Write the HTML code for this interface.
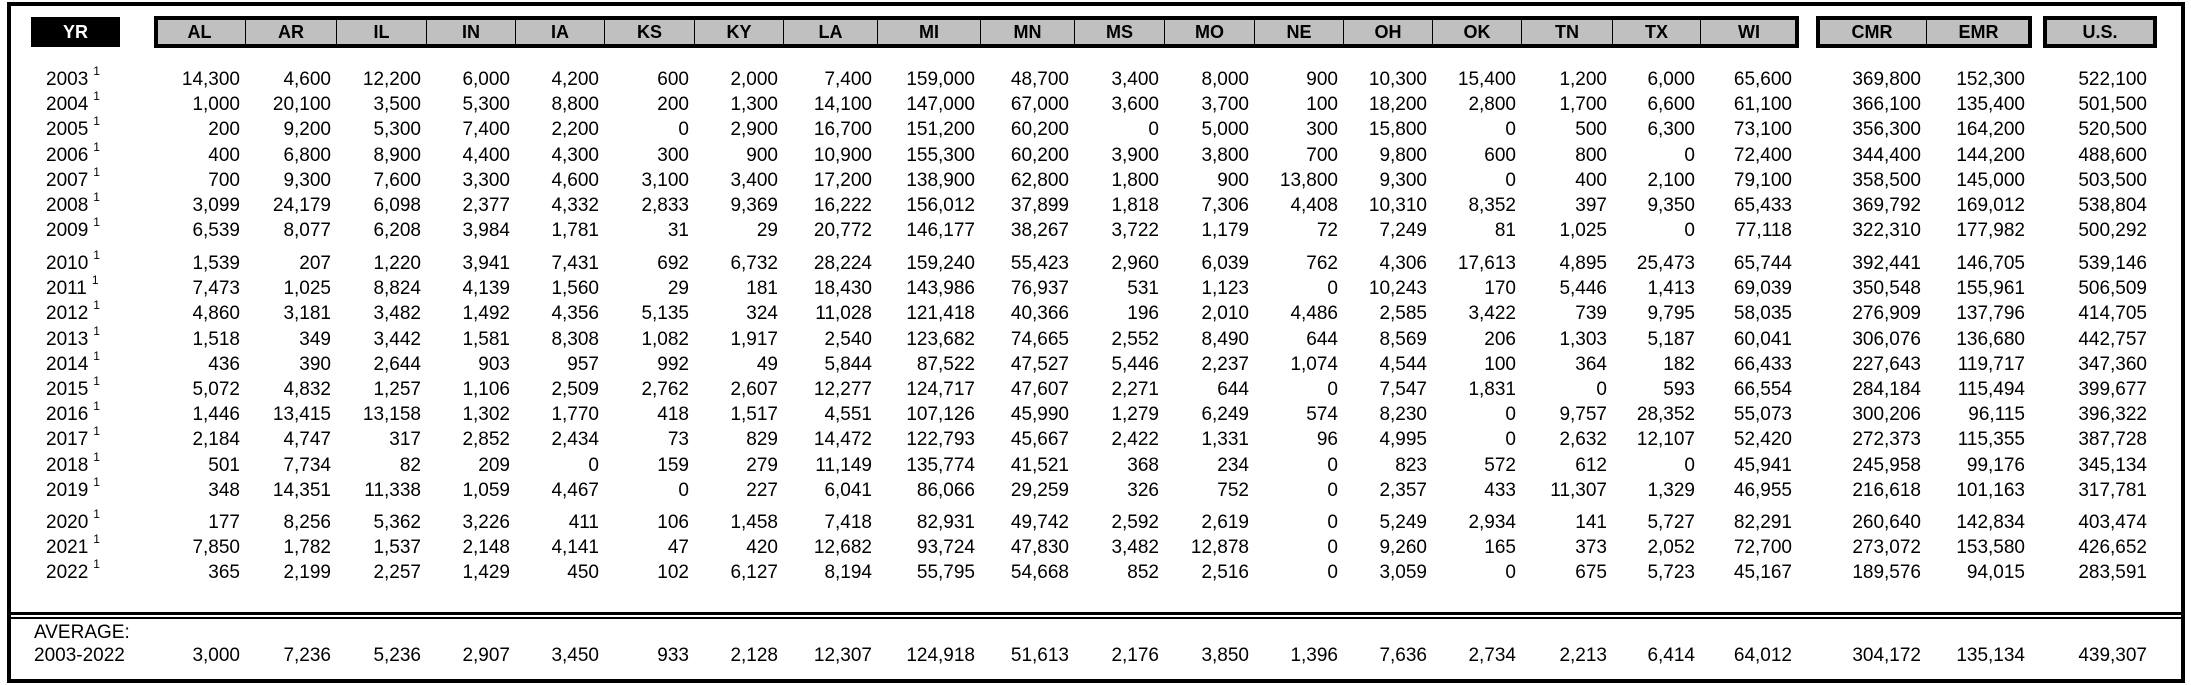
<!DOCTYPE html>
<html><head><meta charset="utf-8">
<style>
html,body{margin:0;padding:0;background:#fff;}
#root{position:relative;width:2191px;height:685px;overflow:hidden;font-family:"Liberation Sans",Arial,sans-serif;color:#000;}
.abs{position:absolute;box-sizing:border-box;}
.hdr{position:absolute;top:18px;height:28px;line-height:28px;text-align:center;font-weight:bold;font-size:18px;}
.cell{position:absolute;height:24px;line-height:24px;font-size:19px;text-align:right;white-space:nowrap;}
.yr{position:absolute;height:24px;line-height:24px;font-size:19px;white-space:nowrap;}
.yr sup{font-size:12px;position:relative;top:-3px;margin-left:5px;vertical-align:top;line-height:12px;}
</style></head>
<body>
<div id="root">
  <div class="abs" style="left:7px;top:2px;width:2178px;height:681px;border:4px solid #000;"></div>
  <div class="abs" style="left:31px;top:17px;width:89px;height:30px;background:#000;color:#fff;font-weight:bold;font-size:18px;text-align:center;line-height:30px;">YR</div>
  <div class="abs" style="left:154px;top:16px;width:1645px;height:32px;background:#c0c0c0;border:4px solid #000;"></div>
  <div class="abs" style="left:1816px;top:16px;width:216px;height:32px;background:#c0c0c0;border:4px solid #000;"></div>
  <div class="abs" style="left:2043px;top:16px;width:114px;height:32px;background:#c0c0c0;border:4px solid #000;"></div>
  <div class="abs" style="left:9px;top:612px;width:2174px;height:3px;background:#000;"></div>
  <div class="abs" style="left:9px;top:617px;width:2174px;height:2px;background:#000;"></div>
  <div class="yr" style="left:34px;top:621px;">AVERAGE:</div>
  <div class="yr" style="left:34px;top:644px;">2003-2022</div>
</div>
<script>
const headers = ["AL","AR","IL","IN","IA","KS","KY","LA","MI","MN","MS","MO","NE","OH","OK","TN","TX","WI","CMR","EMR","U.S."];
const colEdges = [154,245,336,426,515,604,694,783,877,980,1074,1164,1254,1343,1432,1521,1612,1700,1797];
const years = [2003,2004,2005,2006,2007,2008,2009,2010,2011,2012,2013,2014,2015,2016,2017,2018,2019,2020,2021,2022];
const rows = [
[14300,4600,12200,6000,4200,600,2000,7400,159000,48700,3400,8000,900,10300,15400,1200,6000,65600,369800,152300,522100],
[1000,20100,3500,5300,8800,200,1300,14100,147000,67000,3600,3700,100,18200,2800,1700,6600,61100,366100,135400,501500],
[200,9200,5300,7400,2200,0,2900,16700,151200,60200,0,5000,300,15800,0,500,6300,73100,356300,164200,520500],
[400,6800,8900,4400,4300,300,900,10900,155300,60200,3900,3800,700,9800,600,800,0,72400,344400,144200,488600],
[700,9300,7600,3300,4600,3100,3400,17200,138900,62800,1800,900,13800,9300,0,400,2100,79100,358500,145000,503500],
[3099,24179,6098,2377,4332,2833,9369,16222,156012,37899,1818,7306,4408,10310,8352,397,9350,65433,369792,169012,538804],
[6539,8077,6208,3984,1781,31,29,20772,146177,38267,3722,1179,72,7249,81,1025,0,77118,322310,177982,500292],
[1539,207,1220,3941,7431,692,6732,28224,159240,55423,2960,6039,762,4306,17613,4895,25473,65744,392441,146705,539146],
[7473,1025,8824,4139,1560,29,181,18430,143986,76937,531,1123,0,10243,170,5446,1413,69039,350548,155961,506509],
[4860,3181,3482,1492,4356,5135,324,11028,121418,40366,196,2010,4486,2585,3422,739,9795,58035,276909,137796,414705],
[1518,349,3442,1581,8308,1082,1917,2540,123682,74665,2552,8490,644,8569,206,1303,5187,60041,306076,136680,442757],
[436,390,2644,903,957,992,49,5844,87522,47527,5446,2237,1074,4544,100,364,182,66433,227643,119717,347360],
[5072,4832,1257,1106,2509,2762,2607,12277,124717,47607,2271,644,0,7547,1831,0,593,66554,284184,115494,399677],
[1446,13415,13158,1302,1770,418,1517,4551,107126,45990,1279,6249,574,8230,0,9757,28352,55073,300206,96115,396322],
[2184,4747,317,2852,2434,73,829,14472,122793,45667,2422,1331,96,4995,0,2632,12107,52420,272373,115355,387728],
[501,7734,82,209,0,159,279,11149,135774,41521,368,234,0,823,572,612,0,45941,245958,99176,345134],
[348,14351,11338,1059,4467,0,227,6041,86066,29259,326,752,0,2357,433,11307,1329,46955,216618,101163,317781],
[177,8256,5362,3226,411,106,1458,7418,82931,49742,2592,2619,0,5249,2934,141,5727,82291,260640,142834,403474],
[7850,1782,1537,2148,4141,47,420,12682,93724,47830,3482,12878,0,9260,165,373,2052,72700,273072,153580,426652],
[365,2199,2257,1429,450,102,6127,8194,55795,54668,852,2516,0,3059,0,675,5723,45167,189576,94015,283591]
];
const averages = [3000,7236,5236,2907,3450,933,2128,12307,124918,51613,2176,3850,1396,7636,2734,2213,6414,64012,304172,135134,439307];

const root = document.getElementById('root');
function colRange(i){
  if(i<18) return [colEdges[i], colEdges[i+1]];
  if(i===18) return [1818,1926];
  if(i===19) return [1926,2030];
  return [2045,2155];
}
function rowY(i){
  if(i<7) return 80 + i*25.2;
  if(i<17) return 264 + (i-7)*25.2;
  return 523 + (i-17)*25.2;
}
headers.forEach((h,i)=>{
  const [l,r] = colRange(i);
  const d = document.createElement('div');
  d.className='hdr';
  
  
  d.style.left = l+'px'; d.style.width=(r-l)+'px';
  if(i>0 && i!==18 && i!==20){
    d.style.borderLeft='1.5px solid #000'; d.style.boxSizing='border-box';
  }
  d.textContent = h;
  root.appendChild(d);
});
function fmt(v){ return v.toLocaleString('en-US'); }
years.forEach((y,ri)=>{
  const cy = rowY(ri);
  const yl = document.createElement('div');
  yl.className='yr';
  
  
  yl.style.left='46px'; yl.style.top=(cy-12)+'px';
  yl.innerHTML = y + '<sup>1</sup>';
  root.appendChild(yl);
  rows[ri].forEach((v,ci)=>{
    const [l,r] = colRange(ci);
    const pad = ci===20 ? 8 : 5;
    const c = document.createElement('div');
    c.className='cell';
    
    
    c.style.left=l+'px'; c.style.width=(r-l-pad)+'px'; c.style.top=(cy-12)+'px';
    c.textContent = fmt(v);
    root.appendChild(c);
  });
});
averages.forEach((v,ci)=>{
  const [l,r] = colRange(ci);
  const pad = ci===20 ? 8 : 5;
  const c = document.createElement('div');
  c.className='cell';
  
  
  c.style.left=l+'px'; c.style.width=(r-l-pad)+'px'; c.style.top='644px';
  c.textContent = fmt(v);
  root.appendChild(c);
});
</script>
</body></html>
